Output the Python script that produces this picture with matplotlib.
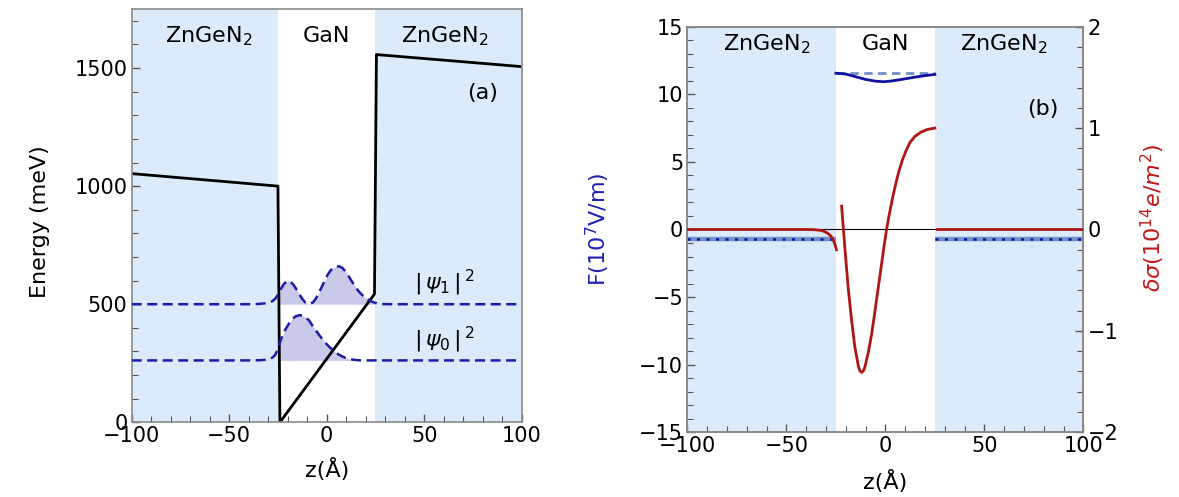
import matplotlib
matplotlib.use("Agg")
import matplotlib.pyplot as plt
import numpy as np
from matplotlib.ticker import MultipleLocator

plt.rcParams['font.family'] = ['DejaVu Sans']
plt.rcParams['mathtext.fontset'] = 'dejavusans'

# ---------------- data: panel (a) ----------------
region_labels = ['ZnGeN$_2$', 'GaN', 'ZnGeN$_2$']
well_edges = [-25, 25]

band_z = [-100, -25, -24, 24.5, 25.5, 100]
band_E = [1053, 1000, 0, 543, 1557, 1506]

psi1_level = 500
psi1_z = [-100, -40, -35, -30, -28, -26.5, -25, -23.5, -22, -20.5, -19.5, -18.5, -17, -15.5,
          -14, -12.5, -11, -9.5, -8.5, -7, -5.5, -4, -2.5, -1, 0.5, 2, 3.5, 5, 6.5, 8,
          9.5, 11, 12.5, 14, 15.5, 17, 18.5, 20, 22, 24, 25, 26, 28, 32, 100]
psi1_E = [500, 500, 501, 505, 512, 522, 540, 565, 585, 597, 599, 594, 582, 563,
          542, 522, 508, 502, 502, 508, 525, 548, 574, 600, 625, 643, 655, 660, 660, 654,
          640, 622, 602, 582, 564, 549, 537, 527, 515, 508, 506, 503, 501, 500, 500]

psi0_level = 262
psi0_z = [-100, -40, -34, -30, -28, -26.5, -25, -23.8, -22.5, -21.2, -19.5, -17.8, -16, -14,
          -12.5, -11, -9, -7.5, -5.8, -4.1, -2.4, -0.7, 1, 2.7, 4.4, 6.1, 8, 9.5, 11.5,
          13.7, 16, 18, 25, 100]
psi0_E = [262, 262, 263, 266, 273, 284, 310, 344, 370, 393, 416, 436, 448, 454,
          452, 445, 431, 412, 392, 372, 354, 337, 322, 309, 297, 287, 279, 273, 269,
          265, 263, 262, 262, 262]

# ---------------- data: panel (b) ----------------
F_bar_left_z = [-100, -25]
F_bar_right_z = [25, 100]
F_barrier = [-0.69, -0.69]
F_const_z = [-25, 25]
F_const = [11.55, 11.55]
F_well_z = [-25, -20, -15, -10, -5, -1, 3, 7, 11, 15, 20, 25]
F_well = [11.56, 11.5, 11.3, 11.1, 10.97, 10.93, 10.98, 11.07, 11.17, 11.27, 11.38, 11.47]

ds_left_z = [-100, -40, -36, -33, -31, -29, -27.5, -26.3, -25.5, -24.7]
ds_left = [0, 0, -0.002, -0.008, -0.018, -0.038, -0.065, -0.105, -0.145, -0.2]
ds_well_z = [-22.1, -20.5, -18.8, -17.1, -15.4, -13.7, -13, -12, -11, -10.4, -8.7, -7, -5.5,
             -4, -2.5, -1, 0.6, 2, 3.5, 5, 6.5, 8.5, 10.5, 12.5, 15, 18, 21, 25]
ds_well = [0.23, -0.17, -0.57, -0.89, -1.16, -1.34, -1.39, -1.41, -1.39, -1.36, -1.22, -1.04,
           -0.84, -0.63, -0.42, -0.21, 0.0, 0.15, 0.30, 0.43, 0.55, 0.68, 0.78, 0.86, 0.92,
           0.96, 0.985, 1.0]
ds_right_z = [26, 100]
ds_right = [0, 0]

# ---------------- styling ----------------
BG = '#dcebfb'
DASH_BLUE = '#1c1ca8'
FILL = '#c9c9ea'
RED = '#b01515'
DARK_BLUE = '#1212a0'
LIGHT_BLUE = '#7090c8'
SPINE = '#8a8a8a'
FS_TICK = 15
FS_TXT = 16
FS_LAB = 16

fig = plt.figure(figsize=(11.79, 4.97), dpi=100)


def style_axis(ax):
    for s in ax.spines.values():
        s.set_color(SPINE)
        s.set_linewidth(1.2)
    ax.tick_params(which='both', direction='in', color='#555555', labelsize=FS_TICK, pad=3)
    ax.tick_params(which='major', length=6, width=1)
    ax.tick_params(which='minor', length=4, width=0.8)


# ---------- panel (a) ----------
axa = fig.add_axes([0.1117, 0.1503, 0.3308, 0.8316])
axa.set_xlim(-100, 100)
axa.set_ylim(0, 1750)
axa.axvspan(-100, well_edges[0], color=BG, lw=0, zorder=0)
axa.axvspan(well_edges[1], 100, color=BG, lw=0, zorder=0)

z1 = np.array(psi1_z, float); e1 = np.array(psi1_E, float)
z0 = np.array(psi0_z, float); e0 = np.array(psi0_E, float)
m1 = (z1 >= well_edges[0]) & (z1 <= well_edges[1])
m0 = (z0 >= well_edges[0]) & (z0 <= well_edges[1])
axa.fill_between(z1[m1], psi1_level, e1[m1], color=FILL, lw=0, zorder=1)
axa.fill_between(z0[m0], psi0_level, e0[m0], color=FILL, lw=0, zorder=1)
axa.plot(z1, e1, color=DASH_BLUE, lw=1.8, dashes=(4, 2.2), zorder=3)
axa.plot(z0, e0, color=DASH_BLUE, lw=1.8, dashes=(4, 2.2), zorder=3)
axa.plot(band_z, band_E, color='black', lw=2, zorder=2)

axa.xaxis.set_major_locator(MultipleLocator(50))
axa.xaxis.set_minor_locator(MultipleLocator(10))
axa.yaxis.set_major_locator(MultipleLocator(500))
axa.yaxis.set_minor_locator(MultipleLocator(100))
style_axis(axa)
axa.tick_params(which='both', top=False, right=False)
axa.set_xlabel('z(Å)', fontsize=FS_LAB)
axa.set_ylabel('Energy (meV)', fontsize=FS_LAB)
axa.xaxis.set_label_coords(0.5, -0.086)
axa.yaxis.set_label_coords(-0.209, 0.485)

for xc, lab in zip([-60.4, 0, 60.4], region_labels):
    axa.text(xc, 1635, lab, ha='center', va='center', fontsize=FS_TXT)
axa.text(80, 1395, '(a)', ha='center', va='center', fontsize=FS_TXT)
axa.text(60.4, 590, r'$|\,\psi_1\,|^{\,2}$', ha='center', va='center', fontsize=FS_TXT)
axa.text(60.4, 350, r'$|\,\psi_0\,|^{\,2}$', ha='center', va='center', fontsize=FS_TXT)

# ---------- panel (b) ----------
axb = fig.add_axes([0.5830, 0.1302, 0.3359, 0.8161])
axb.set_xlim(-100, 100)
axb.set_ylim(-15, 15)
axb.axvspan(-100, well_edges[0], color=BG, lw=0, zorder=0)
axb.axvspan(well_edges[1], 100, color=BG, lw=0, zorder=0)
axb.axhline(0, color='black', lw=0.8, zorder=1)

for zz in (F_bar_left_z, F_bar_right_z):
    axb.plot(zz, F_barrier, color=LIGHT_BLUE, lw=3.2, solid_capstyle='butt', zorder=3)
    axb.plot(zz, F_barrier, color=DARK_BLUE, lw=1.8, dashes=(1.2, 2.6), zorder=4)
axb.plot(F_const_z, F_const, color=LIGHT_BLUE, lw=2.0, dashes=(3, 2), zorder=3)
axb.plot(F_well_z, F_well, color=DARK_BLUE, lw=2.0, zorder=4)

axb.xaxis.set_major_locator(MultipleLocator(50))
axb.xaxis.set_minor_locator(MultipleLocator(10))
axb.yaxis.set_major_locator(MultipleLocator(5))
axb.yaxis.set_minor_locator(MultipleLocator(1))
style_axis(axb)
axb.tick_params(which='both', top=False, right=False)
axb.set_xlabel('z(Å)', fontsize=FS_LAB)
axb.xaxis.set_label_coords(0.5, -0.093)
axb.set_ylabel(r'F(10$^{7}$V/m)', fontsize=FS_LAB, color='#2020b0')
axb.yaxis.set_label_coords(-0.19, 0.5)

for xc, lab in zip([-59.8, 0, 59.8], region_labels):
    axb.text(xc, 13.7, lab, ha='center', va='center', fontsize=FS_TXT)
axb.text(79.5, 8.9, '(b)', ha='center', va='center', fontsize=FS_TXT)

axr = axb.twinx()
axr.set_ylim(-2, 2)
axr.plot(ds_left_z, ds_left, color=RED, lw=2.0, zorder=5)
axr.plot(ds_well_z, ds_well, color=RED, lw=2.0, zorder=5)
axr.plot(ds_right_z, ds_right, color=RED, lw=2.0, zorder=5)
axr.yaxis.set_major_locator(MultipleLocator(1))
axr.yaxis.set_minor_locator(MultipleLocator(0.2))
style_axis(axr)
axr.tick_params(which='both', left=False, right=True, top=False)
axr.set_ylabel(r'$\delta\sigma$(10$^{14}$$e/m^{2}$)', fontsize=FS_LAB, color='#c01818')
axr.yaxis.set_label_coords(1.14, 0.53)

fig.savefig('out.png', dpi=100)
